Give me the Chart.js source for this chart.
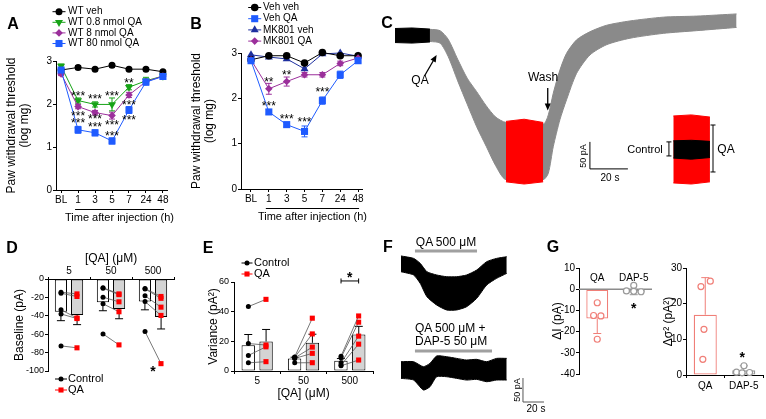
<!DOCTYPE html>
<html>
<head>
<meta charset="utf-8">
<script src="https://cdn.jsdelivr.net/npm/chart.js@4.4.1/dist/chart.umd.min.js"></script>
<style>
  html, body { margin: 0; padding: 0; background: #fff; }
  #fig { position: relative; width: 766px; height: 419px; overflow: hidden; font-family: 'Liberation Sans', Arial, sans-serif; color: #000; }
  #fig canvas { position: absolute; }
  .t { position: absolute; transform: translate(-50%, -50%); white-space: nowrap; line-height: 1; }
</style>
</head>
<body>
<div id="fig"></div>
<script>
// ---- A: paw withdrawal, QA dose ----
const timeLabels = ['BL', '1', '3', '5', '7', '24', '48'];
const aWtVeh = [2.79, 2.85, 2.81, 2.90, 2.81, 2.81, 2.75];
const aWt08 = [2.88, 2.08, 1.99, 1.99, 2.39, 2.54, 2.65];
const aWt8 = [2.70, 1.94, 1.80, 1.73, 2.21, 2.52, 2.65];
const aWt80 = [2.79, 1.40, 1.33, 1.14, 1.86, 2.51, 2.64];
const aWtVehErr = [0.03, 0.04, 0.03, 0.04, 0.03, 0.03, 0.03];
const aWt08Err = [0.05, 0.06, 0.06, 0.15, 0.06, 0.08, 0.05];
const aWt8Err = [0.04, 0.05, 0.05, 0.08, 0.06, 0.05, 0.04];
const aWt80Err = [0.05, 0.08, 0.07, 0.07, 0.08, 0.07, 0.05];
const aStarX = [1, 1, 1, 2, 2, 2, 3, 3, 3, 4, 4, 4];
const aStarY = [2.25, 1.78, 1.61, 2.17, 1.71, 1.53, 2.25, 1.57, 1.32, 2.56, 2.03, 1.69];
const aStarTxt = ['***', '***', '***', '***', '***', '***', '***', '***', '***', '**', '***', '***'];

// ---- B: MK801 ----
const bVehVeh = [2.85, 2.94, 2.94, 2.78, 3.01, 2.94, 2.94];
const bVehQA = [2.83, 1.70, 1.42, 1.27, 1.95, 2.52, 2.83];
const bMkVeh = [2.96, 2.91, 2.87, 2.65, 2.98, 3.00, 2.93];
const bMkQA = [2.85, 2.21, 2.37, 2.52, 2.52, 2.77, 2.89];
const bVehQAErr = [0.03, 0.05, 0.05, 0.12, 0.08, 0.08, 0.04];
const bMkQAErr = [0.03, 0.12, 0.10, 0.05, 0.05, 0.05, 0.03];
const bStarX = [1, 1, 2, 2, 3, 4];
const bStarY = [2.43, 1.90, 2.57, 1.60, 1.54, 2.19];
const bStarTxt = ['**', '***', '**', '***', '***', '***'];

// ---- C: whole-cell trace (s, pA envelopes) ----
const cBlackT = [0, 9, 18.4];
const cBlackHi = [12, 13, 11];
const cBlackLo = [-14, -15, -13];
const cGrayT = [18.4, 23.7, 28, 33, 38, 43, 48, 53, 58.4, 78, 80.7, 83.3, 86.8, 90.3, 95.6, 102.6, 111.4, 123.7, 141.2, 158.8, 179.8];
const cGrayHi = [10.5, 8, -8, -45, -80, -105, -131, -152, -162, -165, -148, -108, -65, -34, -9, 6, 18, 26, 33, 35, 39];
const cGrayLo = [-12, -15, -40, -85, -128, -170, -206, -242, -268, -268, -256, -207, -157, -120, -71, -37, -18, -6, 3, 8, 14];
const cRedT = [58.4, 68, 78];
const cRedHi = [-160, -156, -162];
const cRedLo = [-272, -276, -272];
const cInsetT = [146.5, 156, 165.8];
const cInsetRedHi = [-150, -148, -152];
const cInsetRedLo = [-274, -276, -272];
const cInsetBlackHi = [-196, -195, -197];
const cInsetBlackLo = [-228, -230, -227];

// ---- D: baseline current ----
const qaCats = ['5', '50', '500'];
const dCtrlMean = [-35.6, -25.2, -24.5];
const dCtrlSem = [9.7, 9.3, 9.0];
const dQaMean = [-39.2, -32.7, -41.4];
const dQaSem = [10.4, 10.5, 12.9];
const dCtrl = [[-14.4, -15.5, -33.5, -38, -72.7], [-9.4, -10, -19.8, -27, -59.7], [-10.4, -10.8, -18.3, -24.5, -57.2]];
const dQa = [[-16.2, -19, -42.4, -43, -74.8], [-16.2, -17, -24.8, -35.6, -71.6], [-19, -21, -30.6, -39.6, -92]];

// ---- E: variance ----
const eCtrlMean = [17.4, 8.5, 6.9];
const eCtrlSem = [7.2, 0.8, 1.5];
const eQaMean = [19.9, 19.0, 24.6];
const eQaSem = [8.1, 5.8, 5.5];
const eCtrl = [[43.4, 18.5, 10.5, 5.5], [9.5, 9.2, 8.8, 8.5, 5.5], [10, 9, 5.5, 4, 3.5]];
const eQa = [[48.3, 17.5, 16.3, 6.3], [35.6, 25, 16.1, 11.9, 5.6], [37.1, 32.9, 23.5, 18.1, 7.4]];

// ---- F: traces ----
const fT = [0, 12, 18.3, 24.7, 34.0, 43.5, 53.0, 62.5, 72.1, 81.6, 91.1, 100.7];
const fTopHi = [1.5, -3.5, -13.9, -31.3, -38.1, -41.7, -41.7, -38.1, -27.8, -10.4, -3.5, 0];
const fTopLo = [-31.3, -38.1, -55.5, -83.3, -100.7, -111, -111, -104.2, -86.8, -59, -45, -34.7];
const fT2 = [0, 12, 21.3, 27.6, 34.0, 43.5, 53.0, 62.5, 72.1, 81.6, 91.1, 100.7];
const fBotHi = [0, 0, -10.4, -3.5, 11.9, 10.4, 6.9, 3.5, 4.9, 0, 6.9, 6.9];
const fBotLo = [-34.7, -38.2, -59, -52.1, -31.3, -31.3, -34.7, -38.2, -36.8, -41.7, -38.2, -38.2];

// ---- G: DAP-5 ----
const gCats = ['QA', 'DAP-5'];
const gIMean = [-13.8, -1.6];
const gISem = [7.1, 1.0];
const gIQa = [-6.4, -12.4, -12.6, -23.6];
const gIQaX = [0, -0.1, 0.1, 0];
const gIDap = [1.8, -0.8, -1.0, -1.2];
const gIDapX = [0, -0.2, 0, 0.2];
const gVMean = [16.9, 1.3];
const gVSem = [10.4, 1.3];
const gVQa = [4.4, 12.8, 24.8, 26.3];
const gVQaX = [-0.05, -0.02, -0.1, 0.15];
const gVDap = [2.6, 0.8, 0.6, 0.7];
const gVDapX = [0.05, -0.15, 0, 0.2];

const FONT = "'Liberation Sans', Arial, Helvetica, sans-serif";
const GREEN = '#17a317', PURPLE = '#9b2f9b', BLUE = '#1f5bff', NAVY = '#1d2f9f', SALMON = '#f07f78', RED = '#ff0000';

Chart.defaults.font.family = FONT;
Chart.defaults.color = '#000';

const fig = document.getElementById('fig');
function makeCanvas(x, y, w, h) {
  const c = document.createElement('canvas');
  c.width = w; c.height = h;
  c.style.left = x + 'px'; c.style.top = y + 'px';
  c.style.width = w + 'px'; c.style.height = h + 'px';
  fig.appendChild(c);
  return c;
}
function label(text, x, y, size, extra) {
  const d = document.createElement('div');
  d.className = 't';
  d.textContent = text;
  d.style.left = x + 'px'; d.style.top = y + 'px'; d.style.fontSize = size + 'px';
  if (extra) Object.assign(d.style, extra);
  fig.appendChild(d);
}

const GRID = {display: true, drawOnChartArea: false, drawTicks: true, tickLength: 3, color: '#000', lineWidth: 1};
const BORDER = {display: true, color: '#000', width: 1};
const fixW = w => s => { s.width = w; };
const fixH = h => s => { s.height = h; };
const base = padding => ({
  responsive: false, animation: false, devicePixelRatio: 1,
  layout: {padding},
  plugins: {legend: {display: false}, tooltip: {enabled: false}}
});

function marker(ctx, style, x, y, r, fill) {
  ctx.save();
  ctx.beginPath();
  if (style === 'circle') ctx.arc(x, y, r, 0, Math.PI * 2);
  else if (style === 'rect') { const s = r * Math.SQRT1_2; ctx.rect(x - s, y - s, 2 * s, 2 * s); }
  else if (style === 'rectRot') { ctx.moveTo(x, y - r); ctx.lineTo(x + r, y); ctx.lineTo(x, y + r); ctx.lineTo(x - r, y); ctx.closePath(); }
  else if (style === 'triangle') { ctx.moveTo(x, y - r); ctx.lineTo(x + 0.866 * r, y + 0.5 * r); ctx.lineTo(x - 0.866 * r, y + 0.5 * r); ctx.closePath(); }
  else if (style === 'triDown') { ctx.moveTo(x, y + r); ctx.lineTo(x + 0.866 * r, y - 0.5 * r); ctx.lineTo(x - 0.866 * r, y - 0.5 * r); ctx.closePath(); }
  ctx.fillStyle = fill;
  ctx.fill();
  ctx.restore();
}
function drawLegend(ctx, items, x, y0, dy, half, textX, size) {
  items.forEach((it, i) => {
    const y = y0 + i * dy;
    ctx.save();
    ctx.strokeStyle = it.color; ctx.lineWidth = 1;
    ctx.beginPath(); ctx.moveTo(x - half, y); ctx.lineTo(x + half, y); ctx.stroke();
    marker(ctx, it.style, x, y, it.r, it.color);
    ctx.fillStyle = '#000'; ctx.font = size + 'px ' + FONT;
    ctx.textAlign = 'left'; ctx.textBaseline = 'middle';
    ctx.fillText(it.label, textX, y);
    ctx.restore();
  });
}
function drawStars(chart, xs, ys, txts, size, bold) {
  const ctx = chart.ctx, sx = chart.scales.x, sy = chart.scales.y;
  ctx.save();
  ctx.fillStyle = '#000'; ctx.font = (bold ? 'bold ' : '') + size + 'px ' + FONT;
  ctx.textAlign = 'center'; ctx.textBaseline = 'middle';
  xs.forEach((x, i) => ctx.fillText(txts[i], sx.getPixelForValue(x), sy.getPixelForValue(ys[i]) + size * 0.28));
  ctx.restore();
}
function line(ctx, x1, y1, x2, y2, color, w) {
  ctx.save(); ctx.strokeStyle = color || '#000'; ctx.lineWidth = w || 1;
  ctx.beginPath(); ctx.moveTo(x1, y1); ctx.lineTo(x2, y2); ctx.stroke(); ctx.restore();
}
function arrow(ctx, x1, y1, x2, y2) {
  const a = Math.atan2(y2 - y1, x2 - x1), h = 7, w = 3;
  line(ctx, x1, y1, x2 - Math.cos(a) * h * 0.7, y2 - Math.sin(a) * h * 0.7, '#000', 1.3);
  ctx.save(); ctx.fillStyle = '#000'; ctx.beginPath();
  ctx.moveTo(x2, y2);
  ctx.lineTo(x2 - h * Math.cos(a) + w * Math.sin(a), y2 - h * Math.sin(a) - w * Math.cos(a));
  ctx.lineTo(x2 - h * Math.cos(a) - w * Math.sin(a), y2 - h * Math.sin(a) + w * Math.cos(a));
  ctx.closePath(); ctx.fill(); ctx.restore();
}
function bracket(ctx, x, y1, y2) {
  line(ctx, x, y1, x, y2);
  line(ctx, x - 2.5, y1, x + 2.5, y1);
  line(ctx, x - 2.5, y2, x + 2.5, y2);
}

// error bars for line points and bars, drawn under the marks
const errorBars = {
  id: 'errorBars',
  beforeDatasetsDraw(chart) {
    const ctx = chart.ctx;
    chart.data.datasets.forEach((ds, di) => {
      if (!ds.errs) return;
      const meta = chart.getDatasetMeta(di);
      const ys = chart.scales[meta.yAxisID];
      meta.data.forEach((el, i) => {
        const raw = ds.data[i];
        const v = typeof raw === 'object' ? raw.y : raw;
        const e = ds.errs[i];
        if (!e) return;
        const ends = ds.errOut ? [v + (v < 0 ? -e : e)] : [v - e, v + e];
        const cap = ds.capHalf || 3;
        const col = Array.isArray(ds.errColor) ? ds.errColor[i] : (ds.errColor || '#000');
        ends.forEach(end => {
          const ye = ys.getPixelForValue(end);
          line(ctx, el.x, el.y, el.x, ye, col, 1);
          line(ctx, el.x - cap, ye, el.x + cap, ye, col, 1);
        });
      });
    });
  }
};

// plain chart with hidden axes; the plot box is set by the padding
function plainOptions(padding, xmin, xmax, ymin, ymax) {
  return Object.assign(base(padding), {
    scales: {
      x: {type: 'linear', min: xmin, max: xmax, display: false},
      y: {type: 'linear', min: ymin, max: ymax, display: false}
    }
  });
}

// ---- A and B ----
function seriesDs(vals, errs, color, style, r, rot) {
  return {
    data: vals.map((v, i) => ({x: i, y: v})), errs, errColor: color, capHalf: 3,
    borderColor: color, backgroundColor: color, borderWidth: 1, tension: 0,
    pointStyle: style, pointRadius: r, pointRotation: rot || 0,
    pointBackgroundColor: color, pointBorderColor: color, pointBorderWidth: 0, clip: false
  };
}
function timeOptions(min, max, padding) {
  return Object.assign(base(padding), {
    scales: {
      x: {type: 'linear', min, max, afterFit: fixH(16),
        afterBuildTicks: s => { s.ticks = timeLabels.map((_, i) => ({value: i})); },
        ticks: {autoSkip: false, maxRotation: 0, padding: 1, color: '#000', font: {size: 10}, callback: v => timeLabels[v]},
        grid: GRID, border: BORDER},
      y: {min: 0, max: 3, afterFit: fixW(56),
        ticks: {stepSize: 1, padding: 1, color: '#000', font: {size: 10}},
        grid: GRID, border: BORDER,
        title: {display: true, text: ['Paw withdrawal threshold', '(log mg)'], color: '#000',
          font: {size: 12, lineHeight: 1.1}, padding: {top: 5, bottom: 0}}}
    }
  });
}
function timeDecor(chart) {
  const ctx = chart.ctx, xs = chart.scales.x, yb = chart.chartArea.bottom;
  const x1 = xs.getPixelForValue(1) - 3, x2 = xs.getPixelForValue(6) + 1;
  line(ctx, x1, yb + 19.5, x2, yb + 19.5);
  ctx.save(); ctx.fillStyle = '#000'; ctx.font = '11px ' + FONT;
  ctx.textAlign = 'center'; ctx.textBaseline = 'middle';
  ctx.fillText('Time after injection (h)', (x1 + x2) / 2, yb + 27.5);
  ctx.restore();
}

new Chart(makeCanvas(0, 0, 185, 230), {
  type: 'line',
  data: {datasets: [
    seriesDs(aWt80, aWt80Err, BLUE, 'rect', 5),
    seriesDs(aWt8, aWt8Err, PURPLE, 'rectRot', 3.8),
    seriesDs(aWt08, aWt08Err, GREEN, 'triangle', 4.6, 180),
    seriesDs(aWtVeh, aWtVehErr, '#000', 'circle', 3.5)
  ]},
  options: timeOptions(-0.3, 6.24, {left: 0, top: 61, right: 18, bottom: 24}),
  plugins: [errorBars, {id: 'aDecor', afterDraw(chart) {
    timeDecor(chart);
    drawLegend(chart.ctx, [
      {label: 'WT veh', color: '#000', style: 'circle', r: 3.5},
      {label: 'WT 0.8 nmol QA', color: GREEN, style: 'triDown', r: 4.6},
      {label: 'WT 8 nmol QA', color: PURPLE, style: 'rectRot', r: 3.8},
      {label: 'WT 80 nmol QA', color: BLUE, style: 'rect', r: 5}
    ], 59, 11.7, 10.6, 6.5, 68, 10);
    drawStars(chart, aStarX, aStarY, aStarTxt, 12, false);
  }}]
});

new Chart(makeCanvas(185, 0, 190, 230), {
  type: 'line',
  data: {datasets: [
    seriesDs(bVehQA, bVehQAErr, BLUE, 'rect', 5),
    seriesDs(bMkQA, bMkQAErr, PURPLE, 'rectRot', 3.8),
    seriesDs(bVehVeh, null, '#000', 'circle', 3.8),
    seriesDs(bMkVeh, null, NAVY, 'triangle', 4.6)
  ]},
  options: timeOptions(-0.56, 6.22, {left: 0, top: 53, right: 13, bottom: 25}),
  plugins: [errorBars, {id: 'bDecor', afterDraw(chart) {
    timeDecor(chart);
    drawLegend(chart.ctx, [
      {label: 'Veh veh', color: '#000', style: 'circle', r: 3.8},
      {label: 'Veh QA', color: BLUE, style: 'rect', r: 5},
      {label: 'MK801 veh', color: NAVY, style: 'triangle', r: 4.6},
      {label: 'MK801 QA', color: PURPLE, style: 'rectRot', r: 3.8}
    ], 69.7, 7.5, 11.2, 6.5, 78, 10);
    drawStars(chart, bStarX, bStarY, bStarTxt, 12, false);
  }}]
});

// ---- C ----
function band(t, hi, lo, color, tension) {
  const common = {borderColor: color, backgroundColor: color, borderWidth: 1, pointRadius: 0, tension: tension || 0};
  return [
    Object.assign({data: t.map((x, i) => ({x, y: hi[i]})), fill: false}, common),
    Object.assign({data: t.map((x, i) => ({x, y: lo[i]})), fill: '-1'}, common)
  ];
}
const NOPAD = {left: 0, top: 0, right: 0, bottom: 0};
new Chart(makeCanvas(380, 0, 386, 200), {
  type: 'line',
  data: {datasets: [
    ...band(cInsetT, cInsetBlackHi, cInsetBlackLo, '#000'),
    ...band(cInsetT, cInsetRedHi, cInsetRedLo, RED),
    ...band(cBlackT, cBlackHi, cBlackLo, '#000'),
    ...band(cRedT, cRedHi, cRedLo, RED),
    ...band(cGrayT, cGrayHi, cGrayLo, '#8a8a8a', 0.25)
  ]},
  options: plainOptions(NOPAD, -7.9, 195.3, -305.6, 64.8),
  plugins: [{id: 'cDecor', afterDraw(chart) {
    const ctx = chart.ctx, X = v => chart.scales.x.getPixelForValue(v), Y = v => chart.scales.y.getPixelForValue(v);
    arrow(ctx, X(15.5), Y(-76), X(21.9), Y(-37));
    arrow(ctx, X(80.4), Y(-98), X(80.4), Y(-140));
    line(ctx, X(102.6), Y(-248), X(102.6), Y(-198));
    line(ctx, X(102.6), Y(-248), X(122.6), Y(-248));
    bracket(ctx, X(144.2), Y(-198), Y(-224));
    bracket(ctx, X(167.4), Y(-166.7), Y(-253.7));
  }}]
});

// ---- D and E: bars on a category axis, paired points on an overlay ----
function pairDs(g, c, q, off) {
  return {
    data: [{x: g - off, y: c}, {x: g + off, y: q}],
    borderColor: '#555', borderWidth: 0.8,
    pointStyle: ['circle', 'rect'], pointRadius: [2.5, 3.6],
    pointBackgroundColor: ['#000', RED], pointBorderWidth: 0, clip: false
  };
}
function barDs(vals, errs, fill) {
  return {
    data: vals, errs, errOut: true, capHalf: 4,
    backgroundColor: fill, borderColor: '#000', borderWidth: 1, borderSkipped: false,
    barPercentage: 0.75, categoryPercentage: 0.77
  };
}

new Chart(makeCanvas(0, 225, 190, 194), {
  type: 'bar',
  data: {labels: qaCats, datasets: [barDs(dCtrlMean, dCtrlSem, '#fff'), barDs(dQaMean, dQaSem, '#d4d4d4')]},
  options: Object.assign(base({left: 0, top: 25, right: 16, bottom: 48}), {
    scales: {
      x: {type: 'category', position: 'top', offset: true, afterFit: fixH(29),
        ticks: {padding: 0, color: '#000', font: {size: 10}}, grid: Object.assign({}, GRID, {tickLength: 2}), border: BORDER,
        title: {display: true, text: '[QA] (μM)', color: '#000', font: {size: 12}, padding: {top: 1, bottom: 0}}},
      y: {min: -100, max: 0, afterFit: fixW(48),
        ticks: {stepSize: 20, padding: 1, color: '#000', font: {size: 9}}, grid: GRID, border: BORDER,
        title: {display: true, text: 'Baseline (pA)', color: '#000', font: {size: 12}, padding: {top: 12, bottom: 0}}}
    }
  }),
  plugins: [errorBars]
});
const dPairs = [];
dCtrl.forEach((grp, g) => grp.forEach((c, k) => dPairs.push(pairDs(g, c, dQa[g][k], 0.19))));
new Chart(makeCanvas(0, 225, 190, 194), {
  type: 'line',
  data: {datasets: dPairs},
  options: plainOptions({left: 48, top: 54, right: 16, bottom: 48}, -0.5, 2.5, -100, 0),
  plugins: [{id: 'dDecor', afterDraw(chart) {
    drawLegend(chart.ctx, [
      {label: 'Control', color: '#000', style: 'circle', r: 2.5},
      {label: 'QA', color: RED, style: 'rect', r: 3.6}
    ], 61, 154, 11, 6, 68, 11);
    drawStars(chart, [2], [-97], ['*'], 14, true);
  }}]
});

new Chart(makeCanvas(195, 230, 185, 189), {
  type: 'bar',
  data: {labels: qaCats, datasets: [barDs(eCtrlMean, eCtrlSem, '#fff'), barDs(eQaMean, eQaSem, '#d4d4d4')]},
  options: Object.assign(base({left: 0, top: 52, right: 7, bottom: 16}), {
    scales: {
      x: {type: 'category', offset: true, afterFit: fixH(32),
        ticks: {padding: 1, color: '#000', font: {size: 10}}, grid: GRID, border: BORDER,
        title: {display: true, text: '[QA] (μM)', color: '#000', font: {size: 12}, padding: {top: 0, bottom: 2}}},
      y: {min: 0, max: 60, afterFit: fixW(39),
        ticks: {stepSize: 20, padding: 2, color: '#000', font: {size: 9}}, grid: GRID, border: BORDER,
        title: {display: true, text: 'Variance (pA²)', color: '#000', font: {size: 12}, padding: {top: 11, bottom: 0}}}
    }
  }),
  plugins: [errorBars]
});
const ePairs = [];
eCtrl.forEach((grp, g) => grp.forEach((c, k) => ePairs.push(pairDs(g, c, eQa[g][k], 0.19))));
new Chart(makeCanvas(195, 230, 185, 189), {
  type: 'line',
  data: {datasets: ePairs},
  options: plainOptions({left: 39, top: 52, right: 7, bottom: 48}, -0.5, 2.5, 0, 60),
  plugins: [{id: 'eDecor', afterDraw(chart) {
    const ctx = chart.ctx, X = v => chart.scales.x.getPixelForValue(v), Y = v => chart.scales.y.getPixelForValue(v);
    drawLegend(ctx, [
      {label: 'Control', color: '#000', style: 'circle', r: 2.5},
      {label: 'QA', color: RED, style: 'rect', r: 3.6}
    ], 52, 33, 11, 5.5, 59, 11);
    const yb = Y(60.7);
    line(ctx, X(1.81), yb, X(2.19), yb);
    line(ctx, X(1.81), yb - 2.5, X(1.81), yb + 2.5);
    line(ctx, X(2.19), yb - 2.5, X(2.19), yb + 2.5);
    drawStars(chart, [2], [65.5], ['*'], 14, true);
  }}]
});

// ---- F ----
new Chart(makeCanvas(395, 240, 140, 85), {
  type: 'line',
  data: {datasets: band(fT, fTopHi, fTopLo, '#000', 0.2)},
  options: plainOptions(NOPAD, -5.7, 127.6, -142.3, 34.8),
  plugins: [{id: 'fTop', afterDraw(chart) {
    const X = v => chart.scales.x.getPixelForValue(v), Y = v => chart.scales.y.getPixelForValue(v);
    line(chart.ctx, X(13.3), Y(11.9), X(72.4), Y(11.9), '#a0a0a0', 3);
  }}]
});
new Chart(makeCanvas(395, 345, 160, 74), {
  type: 'line',
  data: {datasets: band(fT2, fBotHi, fBotLo, '#000', 0.2)},
  options: plainOptions(NOPAD, -5.7, 146.7, -119.4, 34.8),
  plugins: [{id: 'fBot', afterDraw(chart) {
    const ctx = chart.ctx, X = v => chart.scales.x.getPixelForValue(v), Y = v => chart.scales.y.getPixelForValue(v);
    line(ctx, X(13.3), Y(22.3), X(86.7), Y(22.3), '#a0a0a0', 3);
    line(ctx, X(116.2), Y(-84), X(116.2), Y(-34), '#555');
    line(ctx, X(116.2), Y(-84), X(136.2), Y(-84), '#555');
  }}]
});

// ---- G ----
function dotsDs(vals, offs, cat, color) {
  return {
    data: vals.map((v, i) => ({x: cat + offs[i], y: v})), showLine: false,
    pointStyle: 'circle', pointRadius: 3, pointBackgroundColor: '#fff',
    pointBorderColor: color, pointBorderWidth: 1.2, clip: false
  };
}
function gBars(vals, errs) {
  return {
    data: vals, errs, errOut: true, capHalf: 4, errColor: [SALMON, '#999'],
    backgroundColor: '#fff', borderColor: [SALMON, '#999'], borderWidth: 1.3, borderSkipped: false,
    barPercentage: 0.6, categoryPercentage: 1
  };
}
new Chart(makeCanvas(545, 230, 115, 189), {
  type: 'bar',
  data: {labels: gCats, datasets: [gBars(gIMean, gISem)]},
  options: Object.assign(base({left: 0, top: 38, right: 8, bottom: 45}), {
    scales: {
      x: {type: 'category', offset: true, display: false},
      y: {min: -40, max: 10, afterFit: fixW(34),
        ticks: {stepSize: 10, padding: 1, color: '#000', font: {size: 10}}, grid: GRID, border: BORDER,
        title: {display: true, text: 'ΔI (pA)', color: '#000', font: {size: 12}, padding: {top: 5, bottom: 0}}}
    }
  }),
  plugins: [{id: 'gZero', beforeDatasetsDraw(chart) {
    const y0 = chart.scales.y.getPixelForValue(0);
    line(chart.ctx, chart.chartArea.left, y0, chart.chartArea.right, y0, '#8c8c8c', 1.5);
  }}, errorBars]
});
new Chart(makeCanvas(545, 230, 115, 189), {
  type: 'line',
  data: {datasets: [dotsDs(gIQa, gIQaX, 0, SALMON), dotsDs(gIDap, gIDapX, 1, '#999')]},
  options: plainOptions({left: 34, top: 38, right: 8, bottom: 45}, -0.5, 1.5, -40, 10),
  plugins: [{id: 'gLab', afterDraw(chart) {
    const ctx = chart.ctx, X = v => chart.scales.x.getPixelForValue(v), y0 = chart.scales.y.getPixelForValue(0);
    ctx.save(); ctx.fillStyle = '#000'; ctx.font = '10px ' + FONT; ctx.textAlign = 'center'; ctx.textBaseline = 'middle';
    gCats.forEach((c, i) => ctx.fillText(c, X(i), y0 - 11));
    ctx.restore();
    drawStars(chart, [1], [-7.5], ['*'], 14, true);
  }}]
});

new Chart(makeCanvas(655, 230, 111, 189), {
  type: 'bar',
  data: {labels: gCats, datasets: [gBars(gVMean, gVSem)]},
  options: Object.assign(base({left: 0, top: 38, right: 3, bottom: 24}), {
    scales: {
      x: {type: 'category', offset: true, afterFit: fixH(20),
        ticks: {padding: 2, color: '#000', font: {size: 10}}, grid: GRID, border: BORDER},
      y: {min: 0, max: 30, afterFit: fixW(31),
        ticks: {stepSize: 10, padding: 1, color: '#000', font: {size: 10}}, grid: GRID, border: BORDER,
        title: {display: true, text: 'Δσ² (pA²)', color: '#000', font: {size: 12}, padding: {top: 6, bottom: 0}}}
    }
  }),
  plugins: [errorBars]
});
new Chart(makeCanvas(655, 230, 111, 189), {
  type: 'line',
  data: {datasets: [dotsDs(gVQa, gVQaX, 0, SALMON), dotsDs(gVDap, gVDapX, 1, '#999')]},
  options: plainOptions({left: 31, top: 38, right: 3, bottom: 44}, -0.5, 1.5, 0, 30),
  plugins: [{id: 'gStar2', afterDraw(chart) {
    drawStars(chart, [1], [5.8], ['*'], 14, true);
  }}]
});

// ---- text labels ----
const bold = {fontWeight: 'bold'};
label('A', 13, 24, 16, bold);
label('B', 196, 24, 16, bold);
label('C', 387, 23, 16, bold);
label('D', 12, 248, 16, bold);
label('E', 208, 248, 16, bold);
label('F', 388, 247, 16, bold);
label('G', 553, 247, 16, bold);
const rot = {transform: 'translate(-50%, -50%) rotate(-90deg)'};
label('QA', 420, 80, 12);
label('Wash', 543, 77, 12);
label('Control', 645, 149, 11);
label('QA', 726, 149, 12);
label('50 pA', 583, 156, 9, rot);
label('20 s', 610, 178, 10);
label('QA 500 μM', 446, 242, 12);
label('QA 500 μM +', 415, 328, 12, {transform: 'translateY(-50%)'});
label('DAP-5 50 μM', 415, 341, 12, {transform: 'translateY(-50%)'});
label('50 pA', 517, 390, 9, rot);
label('20 s', 536, 409, 10);
</script>
</body>
</html>
